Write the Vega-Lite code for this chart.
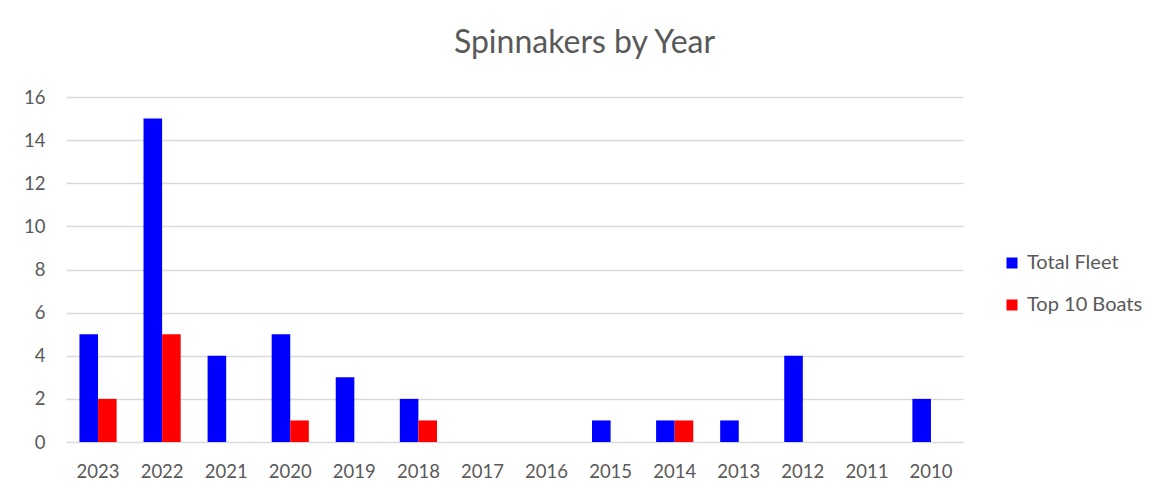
{
  "$schema": "https://vega.github.io/schema/vega-lite/v6.json",
  "autosize": "none",
  "width": 897,
  "height": 345,
  "padding": {"left": 66, "top": 97, "right": 189, "bottom": 57},
  "background": "white",
  "title": {
    "text": "Spinnakers by Year",
    "font": "Lato",
    "fontSize": 32,
    "fontWeight": "normal",
    "color": "#595959",
    "anchor": "middle",
    "dx": 70,
    "offset": 28
  },
  "data": {
    "values": [
      {"year": "2023", "series": "Total Fleet", "count": 5},
      {"year": "2023", "series": "Top 10 Boats", "count": 2},
      {"year": "2022", "series": "Total Fleet", "count": 15},
      {"year": "2022", "series": "Top 10 Boats", "count": 5},
      {"year": "2021", "series": "Total Fleet", "count": 4},
      {"year": "2021", "series": "Top 10 Boats", "count": 0},
      {"year": "2020", "series": "Total Fleet", "count": 5},
      {"year": "2020", "series": "Top 10 Boats", "count": 1},
      {"year": "2019", "series": "Total Fleet", "count": 3},
      {"year": "2019", "series": "Top 10 Boats", "count": 0},
      {"year": "2018", "series": "Total Fleet", "count": 2},
      {"year": "2018", "series": "Top 10 Boats", "count": 1},
      {"year": "2017", "series": "Total Fleet", "count": 0},
      {"year": "2017", "series": "Top 10 Boats", "count": 0},
      {"year": "2016", "series": "Total Fleet", "count": 0},
      {"year": "2016", "series": "Top 10 Boats", "count": 0},
      {"year": "2015", "series": "Total Fleet", "count": 1},
      {"year": "2015", "series": "Top 10 Boats", "count": 0},
      {"year": "2014", "series": "Total Fleet", "count": 1},
      {"year": "2014", "series": "Top 10 Boats", "count": 1},
      {"year": "2013", "series": "Total Fleet", "count": 1},
      {"year": "2013", "series": "Top 10 Boats", "count": 0},
      {"year": "2012", "series": "Total Fleet", "count": 4},
      {"year": "2012", "series": "Top 10 Boats", "count": 0},
      {"year": "2011", "series": "Total Fleet", "count": 0},
      {"year": "2011", "series": "Top 10 Boats", "count": 0},
      {"year": "2010", "series": "Total Fleet", "count": 2},
      {"year": "2010", "series": "Top 10 Boats", "count": 0}
    ]
  },
  "mark": {"type": "bar"},
  "encoding": {
    "x": {
      "field": "year",
      "type": "nominal",
      "sort": ["2023","2022","2021","2020","2019","2018","2017","2016","2015","2014","2013","2012","2011","2010"],
      "scale": {"paddingInner": 0.42, "paddingOuter": 0.21},
      "axis": {
        "title": null,
        "labelAngle": 0,
        "ticks": false,
        "domain": true,
        "domainColor": "#d9d9d9",
        "labelFont": "Lato",
        "labelFontSize": 18.5,
        "labelColor": "#595959",
        "labelPadding": 20
      }
    },
    "xOffset": {
      "field": "series",
      "type": "nominal",
      "sort": ["Total Fleet", "Top 10 Boats"]
    },
    "y": {
      "field": "count",
      "type": "quantitative",
      "scale": {"domain": [0, 16]},
      "axis": {
        "title": null,
        "values": [0, 2, 4, 6, 8, 10, 12, 14, 16],
        "domain": false,
        "ticks": false,
        "gridColor": "#d9d9d9",
        "gridWidth": 1.3,
        "labelFont": "Lato",
        "labelFontSize": 18.5,
        "labelColor": "#595959",
        "labelPadding": 21
      }
    },
    "color": {
      "field": "series",
      "type": "nominal",
      "sort": ["Total Fleet", "Top 10 Boats"],
      "scale": {"domain": ["Total Fleet", "Top 10 Boats"], "range": ["#0000ff", "#ff0000"]},
      "legend": {
        "title": null,
        "orient": "none",
        "legendX": 936,
        "legendY": 156,
        "symbolType": "square",
        "symbolSize": 121,
        "symbolStrokeWidth": 0,
        "labelFont": "Lato",
        "labelFontSize": 20,
        "labelColor": "#595959",
        "labelOffset": 5,
        "rowPadding": 22
      }
    }
  },
  "config": {
    "view": {"stroke": null}
  }
}
